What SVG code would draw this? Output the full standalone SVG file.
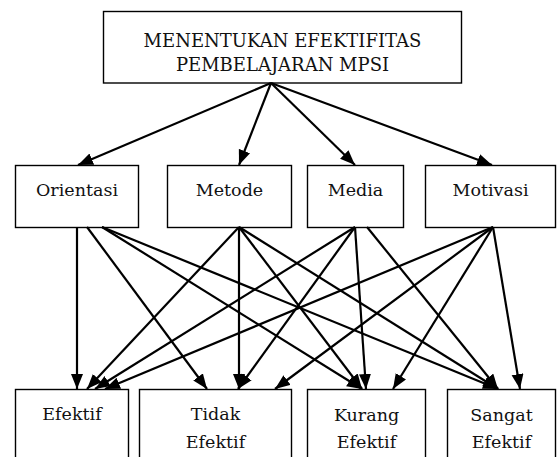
<svg xmlns="http://www.w3.org/2000/svg" width="557" height="457" viewBox="0 0 557 457">
<defs>
<style>
.box{fill:#fff;stroke:#000;stroke-width:1.4}
.t{font-family:'DejaVu Serif','Liberation Serif',serif;font-size:17.5px;fill:#111;text-anchor:middle}
.h{font-size:18px}
.e{stroke:#000;stroke-width:2.2;fill:none;marker-end:url(#ah)}
</style>
<marker id="ah" markerUnits="userSpaceOnUse" markerWidth="16" markerHeight="13" refX="15" refY="6" orient="auto">
<path d="M0,0 L15,6 L0,12 z" fill="#000"/>
</marker>
</defs>
<rect width="557" height="457" fill="#fff"/>
<g id="n-title"><rect class="box" x="103.5" y="11.5" width="358" height="71.5"/><text class="t h" x="282.5" y="47">MENENTUKAN EFEKTIFITAS</text><text class="t h" x="282.5" y="71">PEMBELAJARAN MPSI</text></g>
<g id="n-orientasi"><rect class="box" x="15.5" y="165.5" width="123" height="62"/><text class="t" x="77" y="196">Orientasi</text></g>
<g id="n-metode"><rect class="box" x="167.5" y="165.5" width="124" height="62"/><text class="t" x="229.5" y="196">Metode</text></g>
<g id="n-media"><rect class="box" x="307.5" y="165.5" width="96" height="62"/><text class="t" x="355.5" y="196">Media</text></g>
<g id="n-motivasi"><rect class="box" x="425.5" y="165.5" width="130" height="62"/><text class="t" x="490.5" y="196">Motivasi</text></g>
<g id="n-efektif"><rect class="box" x="15.5" y="389.5" width="113" height="80"/><text class="t" x="72" y="420">Efektif</text></g>
<g id="n-tidak"><rect class="box" x="139.5" y="389.5" width="152" height="80"/><text class="t" x="215.5" y="420">Tidak</text><text class="t" x="215.5" y="448">Efektif</text></g>
<g id="n-kurang"><rect class="box" x="307.5" y="389.5" width="118" height="80"/><text class="t" x="366.5" y="421">Kurang</text><text class="t" x="366.5" y="448">Efektif</text></g>
<g id="n-sangat"><rect class="box" x="447.5" y="389.5" width="108" height="80"/><text class="t" x="501.5" y="421">Sangat</text><text class="t" x="501.5" y="448">Efektif</text></g>
<g id="connectors">
<line class="e" x1="271" y1="83" x2="78" y2="165"/>
<line class="e" x1="271" y1="83" x2="239" y2="165"/>
<line class="e" x1="271" y1="83" x2="355" y2="165"/>
<line class="e" x1="271" y1="83" x2="492" y2="165"/>
<line class="e" x1="77" y1="227" x2="77" y2="389"/>
<line class="e" x1="87" y1="227" x2="207" y2="389"/>
<line class="e" x1="102" y1="227" x2="362" y2="389"/>
<line class="e" x1="102" y1="227" x2="498" y2="389"/>
<line class="e" x1="239" y1="227" x2="87" y2="389"/>
<line class="e" x1="239" y1="227" x2="239" y2="389"/>
<line class="e" x1="239" y1="227" x2="362" y2="389"/>
<line class="e" x1="239" y1="227" x2="498" y2="389"/>
<line class="e" x1="355" y1="227" x2="95" y2="389"/>
<line class="e" x1="355" y1="227" x2="238" y2="389"/>
<line class="e" x1="355" y1="227" x2="366" y2="389"/>
<line class="e" x1="367" y1="227" x2="498" y2="389"/>
<line class="e" x1="493" y1="227" x2="105" y2="389"/>
<line class="e" x1="493" y1="227" x2="275" y2="389"/>
<line class="e" x1="493" y1="227" x2="393" y2="389"/>
<line class="e" x1="493" y1="227" x2="520" y2="389"/>
</g>
</svg>
